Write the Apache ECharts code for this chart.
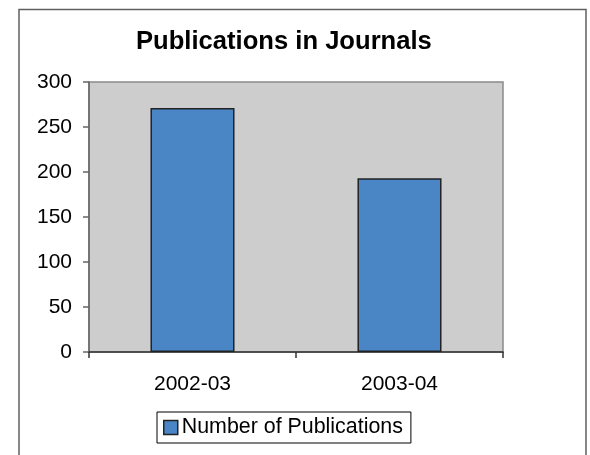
<!DOCTYPE html>
<html>
<head>
<meta charset="utf-8">
<script src="https://cdn.jsdelivr.net/npm/echarts@6/dist/echarts.min.js"></script>
<style>
html,body{margin:0;padding:0;background:#fff;}
#chart{width:590px;height:455px;}
</style>
</head>
<body>
<div id="chart"></div>
<script>
var titleText = 'Publications in Journals';
var categories = ['2002-03', '2003-04'];
var seriesName = 'Number of Publications';
var publications = [271, 193];
var yTicks = [0, 50, 100, 150, 200, 250, 300];

var font = "'Liberation Sans', Arial, sans-serif";
var chart = echarts.init(document.getElementById('chart'), null, {renderer: 'canvas'});
chart.setOption({
  animation: false,
  backgroundColor: '#ffffff',
  graphic: [{
    type: 'rect',
    shape: {x: 19, y: 9.5, width: 567, height: 470},
    style: {fill: 'none', stroke: '#606060', lineWidth: 1.5},
    z: -1
  }],
  title: {
    text: titleText,
    left: 136,
    top: 29,
    padding: 0,
    textStyle: {fontFamily: font, fontSize: 25.6, fontWeight: 'bold', color: '#000'}
  },
  legend: {
    data: [seriesName],
    left: 157,
    top: 412,
    padding: [5, 8, 5, 6],
    borderColor: '#000',
    borderWidth: 1,
    backgroundColor: '#fff',
    itemWidth: 14,
    itemHeight: 14,
    itemGap: 5,
    icon: 'rect',
    itemStyle: {borderColor: '#222', borderWidth: 1.5},
    textStyle: {fontFamily: font, fontSize: 21.4, color: '#000', padding: [0, 0, 0, -1]}
  },
  grid: {
    left: 89, right: 87, top: 82, bottom: 103,
    show: true,
    backgroundColor: '#cdcdcd',
    borderColor: '#8a8a8a',
    borderWidth: 1.5
  },
  xAxis: {
    type: 'category',
    data: categories,
    axisLine: {lineStyle: {color: '#333', width: 1.5}},
    axisTick: {show: true, length: 6, lineStyle: {color: '#333', width: 1.5}},
    axisLabel: {fontFamily: font, fontSize: 21, color: '#000', margin: 22}
  },
  yAxis: {
    type: 'value',
    min: yTicks[0],
    max: yTicks[yTicks.length - 1],
    interval: yTicks[1] - yTicks[0],
    splitLine: {show: false},
    axisLine: {show: true, lineStyle: {color: '#666', width: 1.5}},
    axisTick: {show: true, length: 6, lineStyle: {color: '#666', width: 1.5}},
    axisLabel: {fontFamily: font, fontSize: 21, color: '#000', margin: 17}
  },
  series: [{
    name: seriesName,
    type: 'bar',
    data: publications,
    barWidth: '40.6%',
    itemStyle: {color: '#4a86c6', borderColor: '#222', borderWidth: 1.5}
  }]
});
</script>
</body>
</html>
